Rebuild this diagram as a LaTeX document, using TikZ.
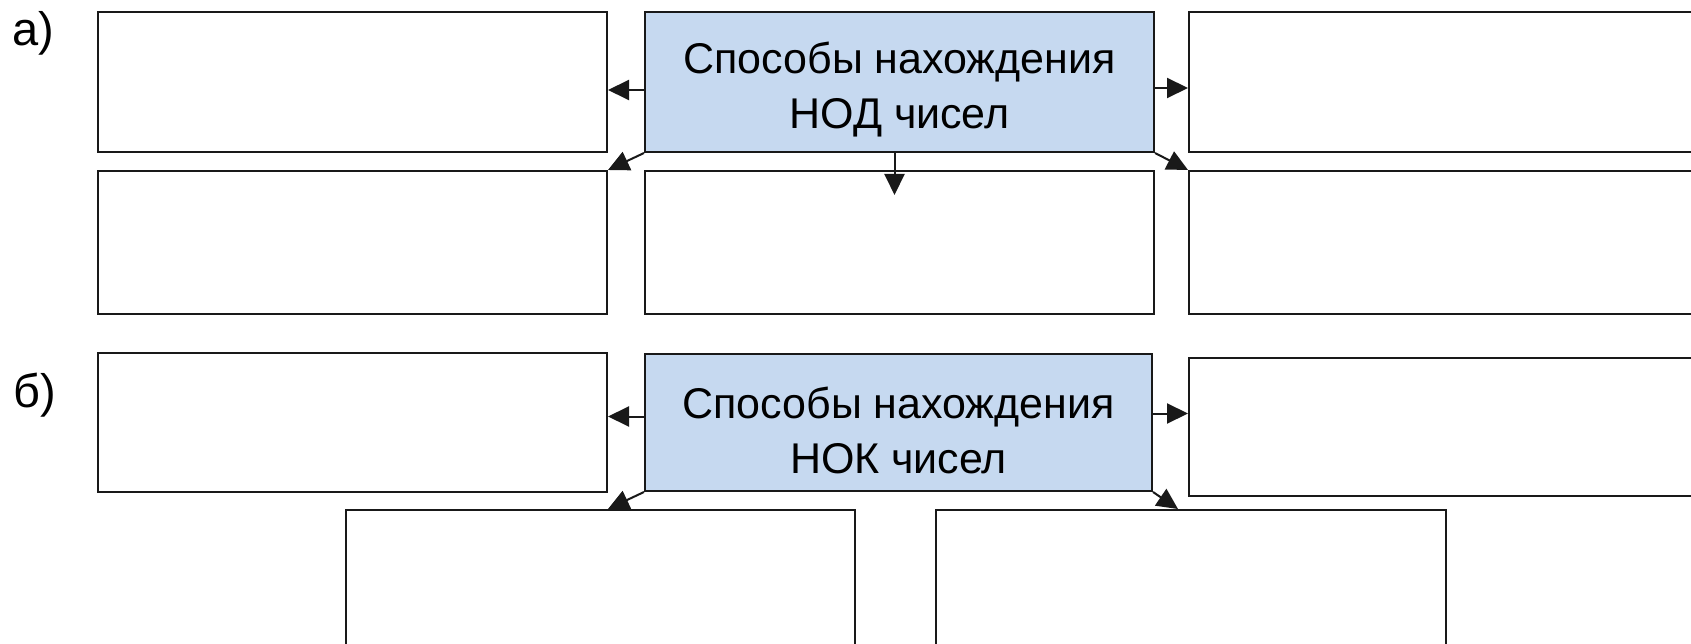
\documentclass[tikz,border=0pt]{standalone}
\usepackage{fontspec}
\setmainfont{Liberation Sans}
\usetikzlibrary{arrows.meta}
\definecolor{headfill}{RGB}{198,217,240}
\definecolor{edge}{RGB}{25,25,25}
\tikzset{
  cell/.style={draw=edge, line width=2pt, fill=white, anchor=north west,
    inner sep=0pt, minimum width=509pt},
  head/.style={cell, fill=headfill, align=center,
    font=\fontsize{43}{55}\selectfont},
  tag/.style={anchor=base west, inner sep=0pt, font=\fontsize{47}{50}\selectfont},
  link/.style={draw=edge, line width=2pt,
    -{Triangle[length=21pt,width=20pt]}},
}
\begin{document}
\begin{tikzpicture}[x=1pt, y=-1pt]
  \clip (0,0) rectangle (1691,644);
  \fill[white] (0,0) rectangle (1691,644);

  % part a: ways of finding the GCD
  \node[tag] (labA) at (12,46) {а)};
  \node[cell, minimum height=140pt] (tlA) at (97,11) {};
  \node[head, minimum height=140pt] (cA) at (644,11)
    {\rule{0pt}{47pt}Способы нахождения\\НОД чисел};
  \node[cell, minimum height=140pt, minimum width=530pt] (trA) at (1188,11) {};
  \node[cell, minimum height=143pt] (blA) at (97,170) {};
  \node[cell, minimum height=143pt] (bcA) at (644,170) {};
  \node[cell, minimum height=143pt, minimum width=530pt] (brA) at (1188,170) {};

  \draw[link] ([yshift=-8pt]cA.west) -- ([yshift=-8pt]cA.west -| tlA.east);
  \draw[link] ([yshift=-6pt]cA.east) -- ([yshift=-6pt]cA.east -| trA.west);
  \draw[link] (cA.south west) -- (blA.north east);
  \draw[link] (cA.south east) -- (brA.north west);
  \draw[link] ([xshift=-5pt]cA.south) -- ([xshift=-5pt,yshift=-25pt]bcA.north);

  % part b: ways of finding the LCM
  \node[tag] (labB) at (13,407) {б)};
  \node[cell, minimum height=139pt] (tlB) at (97,352) {};
  \node[head, minimum height=137pt, minimum width=507pt] (cB) at (644,353)
    {\rule{0pt}{47pt}Способы нахождения\\НОК чисел};
  \node[cell, minimum height=138pt, minimum width=530pt] (trB) at (1188,357) {};
  \node[cell, minimum height=160pt] (blB) at (345,509) {};
  \node[cell, minimum height=160pt, minimum width=510pt] (brB) at (935,509) {};

  \draw[link] ([yshift=6pt]cB.west) -- ([yshift=6pt]cB.west -| tlB.east);
  \draw[link] ([yshift=9pt]cB.east) -- ([yshift=9pt]cB.east -| trB.west);
  \draw[link] (cB.south west) -- (tlB.east |- blB.north);
  \draw[link] (cB.south east) -- ([xshift=-10pt]trB.west |- blB.north);
\end{tikzpicture}
\end{document}
